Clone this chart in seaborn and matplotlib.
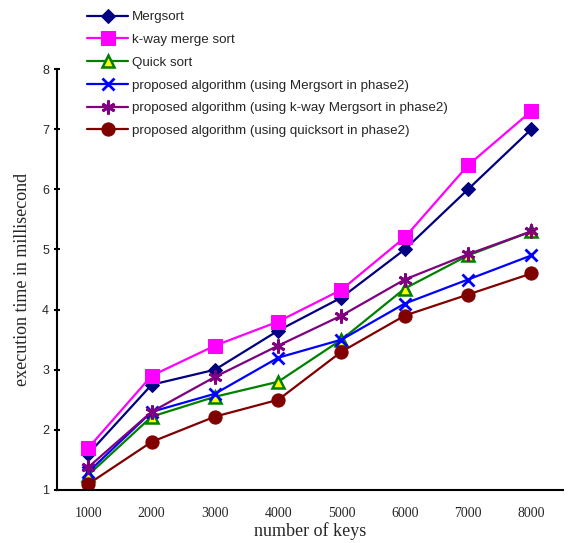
import matplotlib
matplotlib.use("Agg")
import matplotlib.pyplot as plt
import seaborn as sns
import pandas as pd
from matplotlib.ticker import FixedLocator

keys = [1000, 2000, 3000, 4000, 5000, 6000, 7000, 8000]
mergsort = [1.6, 2.75, 3.0, 3.65, 4.2, 5.0, 6.0, 7.0]
kway = [1.7, 2.9, 3.4, 3.8, 4.33, 5.2, 6.4, 7.3]
quick = [1.25, 2.22, 2.55, 2.8, 3.5, 4.35, 4.9, 5.3]
prop_merge = [1.3, 2.3, 2.6, 3.2, 3.5, 4.1, 4.5, 4.9]
prop_kway = [1.38, 2.3, 2.88, 3.4, 3.9, 4.5, 4.92, 5.3]
prop_quick = [1.1, 1.8, 2.22, 2.5, 3.3, 3.9, 4.25, 4.6]

labels = ["Mergsort", "k-way merge sort", "Quick sort",
          "proposed algorithm (using Mergsort in phase2)",
          "proposed algorithm (using k-way Mergsort in phase2)",
          "proposed algorithm (using quicksort in phase2)"]
series = [mergsort, kway, quick, prop_merge, prop_kway, prop_quick]

styles = [
    dict(color="#000080", marker="D", markersize=7, markerfacecolor="#000080", markeredgecolor="#000080"),
    dict(color="#FF00FF", marker="s", markersize=9.5, markerfacecolor="#FF00FF", markeredgecolor="#FF00FF"),
    dict(color="#008000", marker="^", markersize=8.5, markerfacecolor="#FFFF00", markeredgecolor="#008000", markeredgewidth=1.8),
    dict(color="#0000FF", marker="x", markersize=9, markeredgecolor="#0000FF", markeredgewidth=2),
    dict(color="#800080", marker=(6, 2, 0), markersize=10, markeredgecolor="#800080", markeredgewidth=2),
    dict(color="#800000", marker="o", markersize=9.5, markerfacecolor="#800000", markeredgecolor="#800000"),
]

sns.set_theme(style="white")
plt.rcParams['font.family'] = ['Liberation Sans', 'DejaVu Sans']

fig = plt.figure(figsize=(5.8, 5.43), dpi=100)
ax = fig.add_axes([56.7/580, 1-490/543, (563-56.7)/580, (490-69)/543])

for lab, vals, st in zip(labels, series, styles):
    df = pd.DataFrame({"keys": keys, "time": vals})
    sns.lineplot(data=df, x="keys", y="time", ax=ax, label=lab, linewidth=1.6, **st)

ax.set_xlim(500, 8500)
ax.set_ylim(1, 8)
ax.set_xticks(keys)
ax.set_xticklabels([str(k) for k in keys], fontfamily="Liberation Serif", fontsize=10)
ax.xaxis.set_minor_locator(FixedLocator([500 + 1000*i for i in range(9)]))
ax.tick_params(axis="x", which="major", length=0, pad=12)
ax.tick_params(axis="x", which="minor", length=6, width=1.5, direction="inout", color="black")
ax.set_yticks(range(1, 9))
ax.set_yticklabels([str(i) for i in range(1, 9)], fontsize=9)
ax.tick_params(axis="y", which="major", length=5, width=1.5, direction="inout", color="black", left=True, pad=3)

for s in ["top", "right"]:
    ax.spines[s].set_visible(False)
for s in ["left", "bottom"]:
    ax.spines[s].set_color("black")
    ax.spines[s].set_linewidth(1.5)

ax.set_xlabel("number of keys", fontfamily="Liberation Serif", fontsize=13, labelpad=2)
ax.set_ylabel("execution time in millisecond", fontfamily="Liberation Serif", fontsize=13, labelpad=8)

ax.legend(loc="upper left", bbox_to_anchor=(87/580, 1-11/543), bbox_transform=fig.transFigure,
          frameon=False, fontsize=9.6, handlelength=3.1, handletextpad=0.3,
          labelspacing=0.78, borderpad=0, borderaxespad=0)

fig.savefig("out.png", dpi=100)
